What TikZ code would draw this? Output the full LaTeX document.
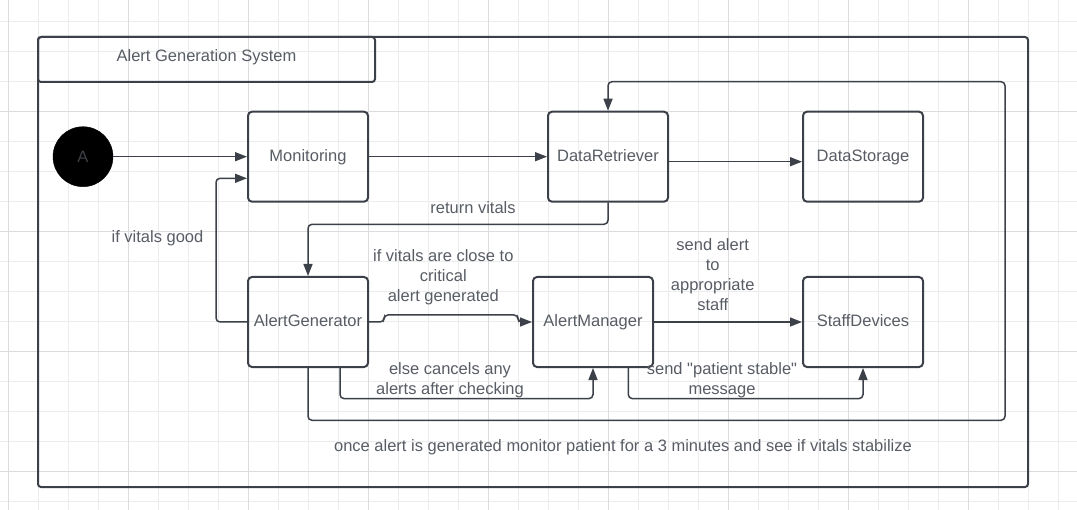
\documentclass[tikz,border=0pt]{standalone}
\usepackage{fontspec}
\setmainfont{Liberation Sans}[Ligatures=TeXOff]
\usetikzlibrary{arrows.meta}
\definecolor{linegray}{RGB}{60,64,72}
\definecolor{textgray}{RGB}{88,92,100}
\definecolor{gridminor}{RGB}{236,236,236}
\definecolor{gridmajor}{RGB}{220,220,220}

\begin{document}
\begin{tikzpicture}[x=1bp,y=-1bp,
  every node/.style={font=\fontsize{16.5bp}{20bp}\selectfont,text=textgray},
  block/.style={draw=linegray,line width=2bp,rounded corners=4bp,
    minimum width=120bp,minimum height=90bp,inner sep=0pt,
    text height=12bp,text depth=3bp},
  flow/.style={draw=linegray,line width=1.5bp,rounded corners=4bp,
    -{Triangle[length=12bp,width=9bp]}},
  frameline/.style={draw=linegray,line width=2bp,rounded corners=3bp},
  lbl/.style={align=center,inner sep=0pt}]
  \useasboundingbox (0,0) rectangle (1077,510);
  \fill[white] (0,0) rectangle (1077,510);
  \foreach \k in {0,...,35}
    \draw[gridminor,line width=1bp] ({8.3+30*\k},0) -- ({8.3+30*\k},510);
  \foreach \k in {0,...,16}
    \draw[gridminor,line width=1bp] (0,{21.7+30*\k}) -- (1077,{21.7+30*\k});
  \foreach \k in {0,...,8}
    \draw[gridmajor,line width=1bp] ({8.3+120*\k},0) -- ({8.3+120*\k},510);
  \foreach \k in {0,...,4}
    \draw[gridmajor,line width=1bp] (0,{111.7+120*(\k-1)}) -- (1077,{111.7+120*(\k-1)});

  \draw[frameline] (38,37) rectangle (1028,487);
  \draw[frameline] (38,37) rectangle (375,82);
  \node[text height=12bp,text depth=3bp,inner sep=0pt] (title) at (206.5,57) {Alert Generation System};

  \node[circle,fill=black,draw=black,minimum size=60bp,inner sep=0pt,text=linegray]
    (start) at (83,156.7) {A};
  \node[block] (mon) at (308,156.7) {Monitoring};
  \node[block] (ret) at (608,156.7) {DataRetriever};
  \node[block] (sto) at (863,156.7) {DataStorage};
  \node[block] (gen) at (308,322) {AlertGenerator};
  \node[block] (mgr) at (593,322) {AlertManager};
  \node[block] (dev) at (863,322) {StaffDevices};
  \coordinate (loop) at (1005,81.7);

  \draw[flow] (start) -- (mon);
  \draw[flow] (mon) -- (ret);
  \draw[flow] ([yshift=-5bp]ret.east) -- ([yshift=-5bp]sto.west);
  \draw[flow] (ret.south) -- ++(0,21.6) -| (gen.north);
  \draw[flow] (gen.west) -- ++(-31,0) |- ([yshift=-21.6bp]mon.west);
  \draw[flow] (gen.east) -- ++(15,0) -- ++(0,-7) -- ++(134,0) -- ++(0,7) -- (mgr.west);
  \draw[flow] ([xshift=32bp]gen.south) -- ++(0,30.6) -| (mgr.south);
  \draw[flow] (gen.south) -- ++(0,52.3) -| (loop) -| (ret.north);
  \draw[flow] (mgr) -- (dev);
  \draw[flow] ([xshift=35.3bp]mgr.south) -- ++(0,30.6) -| (dev.south);

  \node[lbl] (retlbl) at (473,208) {return vitals};
  \node[lbl] (goodlbl) at (157.5,238.5) {if vitals good};
  \node[lbl] (closelbl) at (443.3,277.7) {if vitals are close to\\critical\\alert generated};
  \node[lbl] (elselbl) at (450,380) {else cancels any\\alerts after checking};
  \node[lbl] (sendlbl) at (712.7,275) {send alert\\to\\appropriate\\staff};
  \node[lbl] (stablelbl) at (722,380) {send "patient stable"\\message};
  \node[lbl] (notelbl) at (623,447)
    {once alert is generated monitor patient for a 3 minutes and see if vitals stabilize};
\end{tikzpicture}
\end{document}
